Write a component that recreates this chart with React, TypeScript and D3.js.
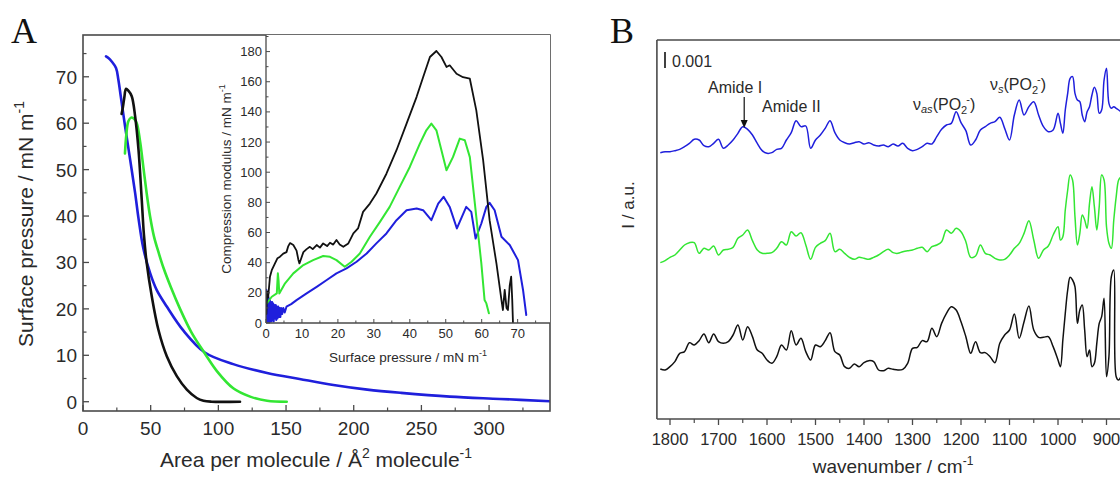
import React from 'react';
import * as d3 from 'd3';

// ---------- Panel A: surface pressure isotherms (area Å², pressure mN/m) ----------
const isoBlack: [number, number][] = [
  [28.5, 62], [29.5, 63.5], [30.5, 65.5], [31.8, 67.4], [33.5, 67], [36, 65.8], [38.5, 61.5], [41, 54.3],
  [43.4, 43.5], [45, 36], [47, 30], [50.8, 22.7], [55.7, 15.5], [61.9, 9.8], [69.3, 5.5], [76.7, 2.6],
  [84, 0.8], [89, 0.2], [95, 0], [116, 0],
];
const isoGreen: [number, number][] = [
  [31, 53.5], [32, 57.5], [33.5, 60.4], [35.5, 61.2], [37.5, 61], [39.7, 60], [42.2, 56], [44.6, 50.5],
  [47, 45], [49.5, 40], [52.5, 35.5], [56, 32], [59.5, 28.8], [65, 24.6], [71.7, 20], [80, 15], [90, 10.4],
  [98.9, 6.6], [111, 2.9], [123.5, 1.1], [136, 0.2], [150.5, 0],
];
const isoBlue: [number, number][] = [
  [17, 74.4], [19, 74], [21.2, 73.3], [24.4, 71.9], [26.1, 69.4], [27.9, 65.8], [31.1, 59.3], [34.8, 52.2],
  [38.5, 45], [41, 39.5], [44.6, 33], [49.6, 27.7], [54.4, 24.1], [61.9, 20.5], [74.2, 15.3], [90, 10.6],
  [111, 8.1], [136, 6.2], [160, 4.9], [185, 3.6], [210, 2.6], [235, 1.9], [271, 1.1], [308, 0.6], [345, 0.1],
];
const aXTicks = [0, 50, 100, 150, 200, 250, 300];
const aXMinor = [25, 75, 125, 175, 225, 275, 325];
const aYTicks = [0, 10, 20, 30, 40, 50, 60, 70];
const aYMinor = [5, 15, 25, 35, 45, 55, 65, 75];

// ---------- Inset: compression modulus vs surface pressure ----------
const insBlack: [number, number][] = [
  [0.1, 6], [0.3, 21], [0.6, 17], [1.1, 30.7], [1.6, 35], [2.5, 39.5], [3.2, 43], [3.9, 44], [4.8, 46],
  [5.7, 47], [6.2, 51], [6.7, 53], [7.6, 51.7], [8.5, 48], [9.0, 42], [9.3, 39.5], [10.4, 47], [11.3, 49],
  [12.2, 50.5], [13, 49], [14.1, 51.7], [15, 50], [15.9, 52.8], [17, 51], [17.8, 53.2], [18.7, 52],
  [19.6, 55], [20.5, 52], [21.5, 50.5], [22.9, 52.8], [24.3, 59.4], [25.6, 62.7], [27, 73.7], [28.9, 79.2],
  [30.7, 85.9], [33.5, 99], [36.3, 114.6], [39.1, 132.2], [41.9, 150], [43.7, 163], [45.6, 176.4],
  [47.4, 180.4], [48.8, 176.4], [50.2, 169.8], [51.1, 170.9], [53, 165.3], [54.8, 163], [56.7, 162],
  [58.5, 141], [60.4, 108], [62.2, 68.2], [64.1, 39.5], [65.5, 15.2], [65.9, 8.6], [66.4, 22], [66.9, 10],
  [67.3, 8.6], [67.8, 25], [68.2, 30.7], [68.5, 15], [68.7, 0],
];
const insGreen: [number, number][] = [
  [0.2, 13], [1.6, 17.4], [3, 19.6], [3.3, 33], [3.5, 28], [3.7, 19.6], [5.3, 26.3], [7.6, 32.9],
  [10.4, 38.4], [13.1, 41.7], [15.9, 44.4], [17.8, 43.9], [19.6, 41.7], [21.9, 37.3], [23.8, 40.6],
  [26.1, 46.1], [28.9, 57.2], [31.7, 67.1], [34.4, 77], [37.2, 90.3], [40, 103.5], [42.8, 119],
  [44.6, 127.8], [46, 132.2], [47.4, 127.8], [48.8, 114.6], [50.2, 101.3], [52, 110], [53.9, 122.3],
  [55.3, 121.2], [56.7, 110], [58.5, 70.4], [59.9, 39.5], [60.8, 15.2], [61.3, 13], [62, 6.4],
];
const insBlue: [number, number][] = [
  [0.1, 22], [0.2, 1], [0.3, 19], [0.4, 0], [0.5, 18], [0.6, 2], [0.7, 17], [0.8, 1], [0.9, 16], [1.0, 0],
  [1.1, 15], [1.25, 2], [1.4, 14], [1.55, 1], [1.7, 14], [1.85, 2], [2.0, 13], [2.15, 1], [2.3, 12],
  [2.5, 3], [2.7, 12], [2.85, 2], [3.0, 11], [3.2, 3], [3.4, 11], [3.6, 4], [3.8, 10], [4.0, 4], [4.2, 10],
  [4.5, 6], [4.8, 10], [5.2, 7], [5.7, 10.8], [7, 12.5], [8.5, 15.2],
  [11.3, 19.6], [14.1, 24], [16.9, 28.5], [19.6, 32.9], [22.4, 36.2], [25.2, 40.6], [28, 46.1], [30.7, 52.8],
  [33.5, 59.4], [36.3, 68.2], [39.1, 74.8], [41.9, 75.9], [43.7, 74.8], [46, 68.2], [47.9, 79.2],
  [49.4, 83.7], [51.1, 77], [53.1, 62.7], [55.7, 77], [57.1, 73.7], [58.3, 56], [59.9, 66], [61.3, 77],
  [62.2, 79.7], [63.6, 74.8], [65.5, 57.2], [67.8, 51.7], [70.1, 41.7], [71.5, 21.9], [72.4, 5.3],
];
const iXTicks = [0, 10, 20, 30, 40, 50, 60, 70];
const iXMinor = [5, 15, 25, 35, 45, 55, 65, 75];
const iYTicks = [0, 20, 40, 60, 80, 100, 120, 140, 160, 180];
const iYMinor = [10, 30, 50, 70, 90, 110, 130, 150, 170, 190];

// ---------- Panel B: spectra (wavenumber cm-1, intensity a.u.; 48 a.u. = 0.001) ----------
const wavenumbers = [
  1820, 1810, 1800, 1790, 1780, 1770, 1760, 1750, 1740, 1730,
  1720, 1710, 1700, 1690, 1680, 1670, 1660, 1650, 1640, 1630,
  1620, 1610, 1600, 1590, 1580, 1570, 1560, 1550, 1540, 1530,
  1520, 1510, 1500, 1490, 1480, 1470, 1460, 1450, 1440, 1430,
  1420, 1410, 1400, 1390, 1380, 1370, 1360, 1350, 1340, 1330,
  1320, 1310, 1300, 1290, 1280, 1270, 1260, 1250, 1240, 1230,
  1220, 1210, 1200, 1190, 1180, 1170, 1160, 1150, 1140, 1130,
  1120, 1110, 1100, 1090, 1080, 1070, 1060, 1050, 1040, 1030,
  1020, 1010,
  1000, 995, 990, 985, 980, 975, 970, 965, 960, 955,
  950, 945, 940, 935, 930, 925, 920, 915, 910, 905,
  900, 895, 890, 885, 880, 875, 870,
];
const specBlue = [
  799, 802, 802, 805, 809, 817, 827, 839, 837, 820,
  817, 827, 839, 812, 822, 837, 857, 877, 869, 852,
  827, 805, 797, 799, 809, 812, 837, 859, 895, 877,
  879, 812, 837, 852, 872, 895, 859, 837, 829, 825,
  829, 832, 825, 829, 822, 819, 822, 817, 825, 819,
  827, 812, 805, 809, 817, 827, 825, 847, 869, 882,
  887, 922, 889, 865, 822, 837, 867, 877, 887, 892,
  905, 872, 837, 912, 957, 912, 937, 952, 912, 877,
  862, 867,
  917, 887, 857, 927, 977, 1022, 1027, 977, 957, 952,
  912, 892, 922, 937, 972, 995, 977, 917, 927, 1017,
  1052, 947, 932, 937, 932, 927, 921,
];
const specGreen = [
  469, 475, 485, 492, 507, 522, 529, 529, 497, 512,
  507, 519, 492, 507, 509, 515, 542, 552, 567, 535,
  507, 497, 497, 499, 512, 532, 522, 562, 549, 559,
  522, 479, 515, 527, 535, 557, 502, 509, 497, 485,
  479, 485, 482, 479, 485, 492, 502, 509, 499, 497,
  502, 505, 507, 512, 515, 502, 517, 522, 532, 567,
  557, 572, 562, 532, 485, 489, 522, 497, 492, 482,
  477, 479, 492, 512, 527, 557, 595, 537, 482, 507,
  519, 552,
  577, 537, 547, 627, 687, 732, 717, 607, 522, 557,
  612, 597, 572, 647, 697, 637, 567, 637, 732, 717,
  577, 527, 512, 597, 667, 717, 727,
];
const specBlack = [
  150, 147, 157, 172, 197, 202, 229, 222, 235, 255,
  229, 255, 232, 227, 232, 252, 282, 237, 277, 247,
  207, 197, 177, 167, 187, 222, 207, 265, 222, 242,
  202, 177, 222, 217, 235, 259, 202, 192, 157, 152,
  165, 157, 169, 175, 172, 147, 145, 152, 149, 147,
  149, 167, 212, 215, 235, 232, 272, 247, 287, 317,
  337, 327, 292, 247, 197, 232, 199, 199, 187, 169,
  227, 252, 267, 315, 242, 292, 339, 267, 245, 245,
  247, 217,
  177, 157, 237, 317, 387, 425, 417, 397, 287, 327,
  342, 267, 187, 207, 157, 167, 227, 287, 307, 362,
  127, 187, 427, 447, 127, 117, 127,
];
const bXTicks = [1800, 1700, 1600, 1500, 1400, 1300, 1200, 1100, 1000, 900];
const bXMinor = [1750, 1650, 1550, 1450, 1350, 1250, 1150, 1050, 950, 850];
const scaleBarUnits = 48; // 0.001

const BLUE = '#1f1fdc';
const GREEN = '#33e633';
const BLACK = '#111111';
const AXIS = '#4a4a4a';
const TXT = '#2a2a2a';
const SANS = "'Liberation Sans', Arial, Helvetica, sans-serif";
const SERIF = "'Liberation Serif', 'Times New Roman', serif";

export default function App() {
  // Panel A scales
  const xA = d3.scaleLinear().domain([0, 345]).range([83, 550]);
  const yA = d3.scaleLinear().domain([-2, 79]).range([411, 35]);
  // Inset scales
  const xI = d3.scaleLinear().domain([0, 79]).range([266, 550]);
  const yI = d3.scaleLinear().domain([0, 191]).range([323, 35]);
  // Panel B scales
  const xB = d3.scaleLinear().domain([1800, 900]).range([670, 1106.5]);
  const yB = d3.scaleLinear().domain([0, 1137]).range([419, 40]);

  const lineA = d3.line<[number, number]>().x(d => xA(d[0])).y(d => yA(d[1])).curve(d3.curveCatmullRom.alpha(0.5));
  const lineI = d3.line<[number, number]>().x(d => xI(d[0])).y(d => yI(d[1])).curve(d3.curveLinear);
  const lineB = (vals: number[]) =>
    d3.line<number>().x((_, i) => xB(wavenumbers[i])).y(d => yB(d)).curve(d3.curveCatmullRom.alpha(0.5))(vals) || '';

  const aL = xA(0), aR = xA(345), aT = yA(79), aB = yA(-2);
  const iL = xI(0), iR = xI(79), iT = yI(191), iB = yI(0);
  const bL = xB(1827), bR = 1140, bT = yB(1137), bBt = yB(0);

  const arrowX = xB(1647);

  return (
    <svg width={1120} height={478} style={{ position: 'absolute', left: 0, top: 0, display: 'block', background: '#fff' }} fontFamily={SANS}>
      <defs>
        <clipPath id="clipA"><rect x={aL} y={aT} width={aR - aL} height={aB - aT} /></clipPath>
        <clipPath id="clipI"><rect x={iL} y={iT} width={iR - iL} height={iB - iT} /></clipPath>
        <clipPath id="clipB"><rect x={bL} y={bT} width={bR - bL} height={bBt - bT} /></clipPath>
      </defs>
      <rect x={0} y={0} width={1120} height={478} fill="#fff" />

      {/* ================= Panel A ================= */}
      <text x={11} y={43} fontFamily={SERIF} fontSize={36} fill="#111">A</text>
      <g clipPath="url(#clipA)" fill="none" strokeLinejoin="round" strokeLinecap="round">
        <path d={lineA(isoBlue) || ''} stroke={BLUE} strokeWidth={2.6} />
        <path d={lineA(isoGreen) || ''} stroke={GREEN} strokeWidth={2.6} />
        <path d={lineA(isoBlack) || ''} stroke={BLACK} strokeWidth={2.6} />
      </g>
      <rect x={aL} y={aT} width={aR - aL} height={aB - aT} fill="none" stroke={AXIS} strokeWidth={1.6} />
      {aXTicks.map(t => (
        <g key={'ax' + t}>
          <line x1={xA(t)} x2={xA(t)} y1={aB} y2={aB - 6} stroke={AXIS} strokeWidth={1.3} />
          <text x={xA(t)} y={435} textAnchor="middle" fontSize={19} fill={TXT}>{t}</text>
        </g>
      ))}
      {aXMinor.map(t => (
        <line key={'axm' + t} x1={xA(t)} x2={xA(t)} y1={aB} y2={aB - 3.5} stroke={AXIS} strokeWidth={1.2} />
      ))}
      {aYTicks.map(t => (
        <g key={'ay' + t}>
          <line x1={aL} x2={aL + 6} y1={yA(t)} y2={yA(t)} stroke={AXIS} strokeWidth={1.3} />
          <text x={77} y={yA(t) + 7} textAnchor="end" fontSize={19} fill={TXT}>{t}</text>
        </g>
      ))}
      {aYMinor.map(t => (
        <line key={'aym' + t} x1={aL} x2={aL + 3.5} y1={yA(t)} y2={yA(t)} stroke={AXIS} strokeWidth={1.2} />
      ))}
      <text x={316} y={467} textAnchor="middle" fontSize={21} fill={TXT}>
        Area per molecule / Å<tspan fontSize={14} dy={-9}>2</tspan><tspan dy={9}> molecule</tspan><tspan fontSize={14} dy={-9}>-1</tspan>
      </text>
      <text transform={`translate(33,224) rotate(-90)`} textAnchor="middle" fontSize={21} fill={TXT}>
        Surface pressure / mN m<tspan fontSize={14} dy={-9}>-1</tspan>
      </text>

      {/* ================= Inset ================= */}
      <rect x={iL} y={iT} width={iR - iL} height={iB - iT} fill="#fff" />
      <g clipPath="url(#clipI)" fill="none" strokeLinejoin="round" strokeLinecap="round">
        <path d={lineI(insBlue) || ''} stroke={BLUE} strokeWidth={2} />
        <path d={lineI(insGreen) || ''} stroke={GREEN} strokeWidth={2} />
        <path d={lineI(insBlack) || ''} stroke={BLACK} strokeWidth={1.8} />
      </g>
      <line x1={iL} x2={iL} y1={iT} y2={iB} stroke={AXIS} strokeWidth={1.3} />
      <line x1={iL} x2={iR} y1={iB} y2={iB} stroke={AXIS} strokeWidth={1.3} />
      {iXTicks.map(t => (
        <g key={'ix' + t}>
          <line x1={xI(t)} x2={xI(t)} y1={iB} y2={iB - 4} stroke={AXIS} strokeWidth={1} />
          <text x={xI(t)} y={338} textAnchor="middle" fontSize={13} fill={TXT}>{t}</text>
        </g>
      ))}
      {iXMinor.map(t => (
        <line key={'ixm' + t} x1={xI(t)} x2={xI(t)} y1={iB} y2={iB - 2.5} stroke={AXIS} strokeWidth={1} />
      ))}
      {iYTicks.map(t => (
        <g key={'iy' + t}>
          <line x1={iL} x2={iL + 4} y1={yI(t)} y2={yI(t)} stroke={AXIS} strokeWidth={1} />
          <text x={262} y={yI(t) + 4.5} textAnchor="end" fontSize={13} fill={TXT}>{t}</text>
        </g>
      ))}
      {iYMinor.map(t => (
        <line key={'iym' + t} x1={iL} x2={iL + 2.5} y1={yI(t)} y2={yI(t)} stroke={AXIS} strokeWidth={1} />
      ))}
      <text x={(iL + iR) / 2} y={362} textAnchor="middle" fontSize={13.5} fill={TXT}>
        Surface pressure / mN m<tspan fontSize={9} dy={-6}>-1</tspan>
      </text>
      <text transform={`translate(231,179) rotate(-90)`} textAnchor="middle" fontSize={13.5} fill={TXT}>
        Compression modulus / mN m<tspan fontSize={9} dy={-6}>-1</tspan>
      </text>

      {/* ================= Panel B ================= */}
      <text x={610} y={43} fontFamily={SERIF} fontSize={36} fill="#111">B</text>
      <g clipPath="url(#clipB)" fill="none" strokeLinejoin="round">
        <path d={lineB(specBlue)} stroke={BLUE} strokeWidth={1.5} />
        <path d={lineB(specGreen)} stroke={GREEN} strokeWidth={1.5} />
        <path d={lineB(specBlack)} stroke={BLACK} strokeWidth={1.5} />
      </g>
      <line x1={bL} x2={bL} y1={bT} y2={bBt} stroke={AXIS} strokeWidth={1.6} />
      <line x1={bL} x2={bR} y1={bBt} y2={bBt} stroke={AXIS} strokeWidth={1.6} />
      <line x1={bL} x2={bR} y1={bT} y2={bT} stroke={AXIS} strokeWidth={1.6} />
      {bXTicks.map(t => (
        <g key={'bx' + t}>
          <line x1={xB(t)} x2={xB(t)} y1={bBt} y2={bBt + 6} stroke={AXIS} strokeWidth={1.3} />
          <text x={xB(t)} y={445} textAnchor="middle" fontSize={16.5} fill={TXT}>{t}</text>
        </g>
      ))}
      {bXMinor.map(t => (
        <line key={'bxm' + t} x1={xB(t)} x2={xB(t)} y1={bBt} y2={bBt + 4} stroke={AXIS} strokeWidth={1.2} />
      ))}
      <text x={893} y={473} textAnchor="middle" fontSize={19} fill={TXT}>
        wavenumber / cm<tspan fontSize={12} dy={-8}>-1</tspan>
      </text>
      <text transform={`translate(634,205) rotate(-90)`} textAnchor="middle" fontSize={17} fill={TXT}>I / a.u.</text>

      {/* scale bar */}
      <line x1={665} x2={665} y1={yB(1053 + scaleBarUnits)} y2={yB(1053)} stroke="#111" strokeWidth={1.6} />
      <text x={672} y={67} fontSize={16} fill={TXT}>0.001</text>

      {/* annotations */}
      <text x={708} y={93} fontSize={16} fill={TXT}>Amide I</text>
      <line x1={arrowX} x2={arrowX} y1={97} y2={121} stroke="#111" strokeWidth={1.2} />
      <path d={`M${arrowX - 3.5},120 L${arrowX + 3.5},120 L${arrowX},128 Z`} fill="#111" />
      <text x={762} y={112} fontSize={16} fill={TXT}>Amide II</text>
      <text x={913} y={110} fontSize={16} fill={TXT}>
        ν<tspan fontSize={11} fontStyle="italic" dy={3}>as</tspan><tspan dy={-3}>(PO</tspan><tspan fontSize={11} dy={4}>2</tspan><tspan fontSize={11} dx={-1} dy={-11}>-</tspan><tspan dy={7}>)</tspan>
      </text>
      <text x={990} y={90} fontSize={16} fill={TXT}>
        ν<tspan fontSize={11} fontStyle="italic" dy={3}>s</tspan><tspan dy={-3}>(PO</tspan><tspan fontSize={11} dy={4}>2</tspan><tspan fontSize={11} dx={-1} dy={-11}>-</tspan><tspan dy={7}>)</tspan>
      </text>
    </svg>
  );
}
